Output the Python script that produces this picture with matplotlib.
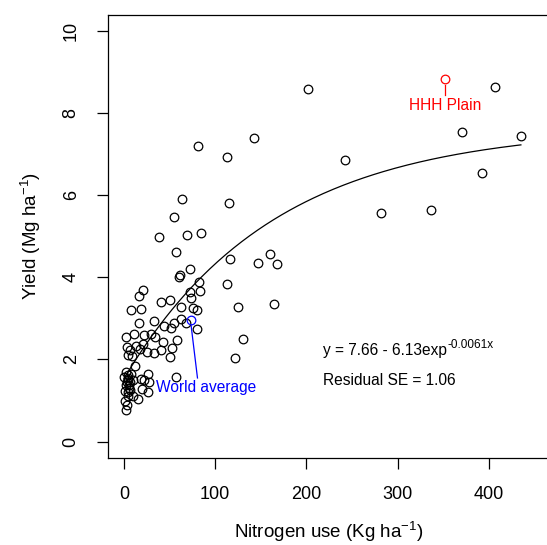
import numpy as np
import matplotlib
matplotlib.use("Agg")
import matplotlib.pyplot as plt

plt.rcParams['font.family'] = ['Liberation Sans', 'DejaVu Sans']
plt.rcParams['mathtext.fontset'] = 'custom'
plt.rcParams['mathtext.rm'] = 'Liberation Sans'
plt.rcParams['mathtext.it'] = 'Liberation Sans:italic'
plt.rcParams['mathtext.bf'] = 'Liberation Sans:bold'

# ---- data (nitrogen use, yield) ----
nitrogen = [
    202, 142, 113, 242, 115, 84, 81, 116, 147, 160, 168, 82, 83, 113, 125, 164, 131, 122, 80, 80,
    282, 336, 371, 392, 407, 435,
    64, 55, 38, 69, 57, 60, 61, 72, 72, 74, 76, 21, 16, 8, 19, 41, 50, 63, 33, 44, 52, 55, 63, 68,
    17, 2, 11, 22, 30, 34, 43, 58, 3, 13, 21, 7, 4, 9, 18, 25, 33, 41, 53, 50, 12, 57,
    2, 8, 0.5, 4, 9.5, 2, 6, 1.5, 6.5, 4, 9.5, 15, 1.5, 3, 2, 20, 26, 26, 19, 28, 22, 5, 3, 6, 4, 7, 5,
]
yield_ = [
    8.60, 7.40, 6.93, 6.86, 5.82, 5.08, 7.19, 4.44, 4.36, 4.56, 4.32, 3.89, 3.66, 3.85, 3.27, 3.36, 2.51, 2.03, 3.20, 2.74,
    5.56, 5.63, 7.54, 6.55, 8.65, 7.44,
    5.90, 5.46, 4.98, 5.03, 4.63, 4.02, 4.05, 4.20, 3.64, 3.49, 3.26, 3.70, 3.54, 3.21, 3.22, 3.39, 3.44, 3.28, 2.93, 2.82, 2.76, 2.89, 2.99, 2.90,
    2.88, 2.54, 2.61, 2.59, 2.63, 2.54, 2.42, 2.48, 2.30, 2.32, 2.37, 2.22, 2.10, 2.09, 2.25, 2.18, 2.15, 2.24, 2.28, 2.07, 1.83, 1.58,
    1.69, 1.65, 1.57, 1.49, 1.49, 1.37, 1.37, 1.24, 1.26, 1.12, 1.12, 1.03, 1.00, 0.88, 0.76, 1.29, 1.20, 1.65, 1.53, 1.45, 1.49, 1.55, 1.45, 1.30, 1.20, 1.45, 1.62,
]
world_avg = (73.6, 2.97)
hhh_plain = (352, 8.83)

# fitted model y = a - b*exp(c*x)
fit_a, fit_b, fit_c = 7.66, 6.13, -0.0061
fit_xmax = 435

xticks = [0, 100, 200, 300, 400]
yticks = [0, 2, 4, 6, 8, 10]

W, H = 547, 545
fig = plt.figure(figsize=(W / 100, H / 100), dpi=100)
left_px, right_px, top_px, bottom_px = 107.5, 551.0, 14.7, 458.0
ax = fig.add_axes([left_px / W, 1 - bottom_px / H, (right_px - left_px) / W, (bottom_px - top_px) / H])

ax.plot(nitrogen, yield_, 'o', ls='none', mfc='none', mec='black', ms=6.2, mew=0.9, zorder=3)

xs = np.linspace(0, fit_xmax, 200)
ax.plot(xs, fit_a - fit_b * np.exp(fit_c * xs), color='black', lw=0.9, zorder=2)

# highlighted points
ax.plot(*world_avg, 'o', mfc='none', mec='#0000ff', ms=6.2, mew=0.9, zorder=4)
ax.plot(*hhh_plain, 'o', mfc='none', mec='#ff0000', ms=6.2, mew=0.9, zorder=4)

ax.plot([world_avg[0], world_avg[0] + 7], [world_avg[1] - 0.14, 1.55], color='#0000ff', lw=0.9)
ax.text(world_avg[0] - 38, 1.32, 'World average', color='#0000ff', fontsize=11.2, ha='left', va='center')

ax.plot([hhh_plain[0], hhh_plain[0]], [hhh_plain[1] - 0.14, 8.45], color='#ff0000', lw=0.9)
ax.text(hhh_plain[0], 8.2, 'HHH Plain', color='#ff0000', fontsize=11.2, ha='center', va='center')

t = ax.text(218, 2.12, 'y = 7.66 - 6.13exp', fontsize=11.2, ha='left', va='baseline')
ax.annotate('-0.0061x', xy=(1, 0), xycoords=t, xytext=(0.5, 4.5), textcoords='offset points',
            fontsize=8.5, ha='left', va='bottom')
ax.text(218, 1.5, 'Residual SE = 1.06', fontsize=11.2, ha='left', va='center')

ax.set_xlim(-18, 468)
ax.set_ylim(-0.4, 10.4)
ax.set_xticks(xticks)
ax.set_yticks(yticks)
ax.set_xticklabels([str(v) for v in xticks])
ax.set_yticklabels([str(v) for v in yticks], rotation=90, va='center')
ax.tick_params(axis='both', direction='out', length=8, width=0.9, labelsize=13, pad=12, color='black')
for s in ax.spines.values():
    s.set_linewidth(0.9)
    s.set_color('black')

fig.text(329 / W, 1 - 532 / H, 'Nitrogen use (Kg ha$^{-1}$)', fontsize=13.5, ha='center', va='center')
fig.text(31 / W, 1 - 236 / H, 'Yield (Mg ha$^{-1}$)', fontsize=13.5, ha='center', va='center', rotation=90)

fig.savefig('out.png', dpi=100)
